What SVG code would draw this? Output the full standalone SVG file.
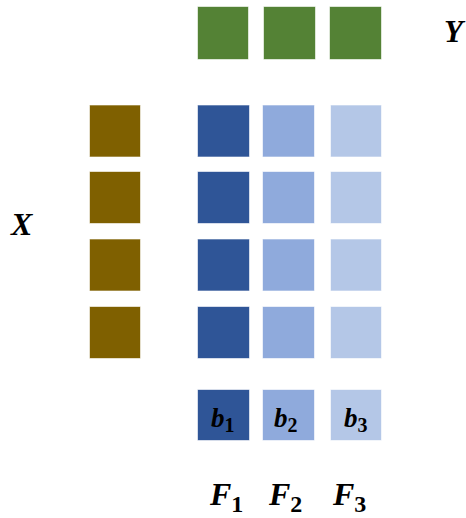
<svg xmlns="http://www.w3.org/2000/svg" width="466" height="518" viewBox="0 0 466 518">
  <style>
    .cell { stroke: #ffffff; stroke-opacity: 0.6; stroke-width: 1; }
    .y { fill: #548235; }
    .x { fill: #7F6000; }
    .f1 { fill: #2F5597; }
    .f2 { fill: #8FAADC; }
    .f3 { fill: #B4C7E7; }
    .lbl { font-family: "Liberation Serif", "DejaVu Serif", serif; font-style: italic; font-weight: bold; fill: #000000; }
    .sub { font-style: normal; }
    .bias { font-size: 27px; }
    .bias .sub { font-size: 20px; }
    .flt { font-size: 32px; }
    .flt .sub { font-size: 24px; }
  </style>
  <rect width="466" height="518" fill="#ffffff"/>

  <!-- output vector Y -->
  <g id="Y">
    <rect class="cell y" x="197.5" y="6.5" width="51" height="53"/>
    <rect class="cell y" x="263.5" y="6.5" width="52" height="53"/>
    <rect class="cell y" x="329.5" y="6.5" width="52" height="53"/>
    <text class="lbl" x="444" y="42" font-size="31">Y</text>
  </g>

  <!-- input matrix X -->
  <g id="X">
    <rect class="cell x" x="89.5" y="105" width="51" height="52"/>
    <rect class="cell x" x="89.5" y="171.5" width="51" height="52"/>
    <rect class="cell x" x="89.5" y="239" width="51" height="52"/>
    <rect class="cell x" x="89.5" y="306.5" width="51" height="52"/>
    <text class="lbl" x="11" y="235" font-size="32">X</text>
  </g>

  <!-- filter F1 with bias b1 -->
  <g id="F1">
    <rect class="cell f1" x="197.5" y="105" width="52" height="52"/>
    <rect class="cell f1" x="197.5" y="171.5" width="52" height="52"/>
    <rect class="cell f1" x="197.5" y="239" width="52" height="52"/>
    <rect class="cell f1" x="197.5" y="306.5" width="52" height="52"/>
    <rect class="cell f1" x="197.5" y="389.5" width="52" height="51"/>
    <text class="lbl bias" x="211" y="427">b<tspan class="sub" dy="5">1</tspan></text>
    <text class="lbl flt" x="210" y="505">F<tspan class="sub" dy="7">1</tspan></text>
  </g>

  <!-- filter F2 with bias b2 -->
  <g id="F2">
    <rect class="cell f2" x="262.5" y="105" width="52" height="52"/>
    <rect class="cell f2" x="262.5" y="171.5" width="52" height="52"/>
    <rect class="cell f2" x="262.5" y="239" width="52" height="52"/>
    <rect class="cell f2" x="262.5" y="306.5" width="52" height="52"/>
    <rect class="cell f2" x="262.5" y="389.5" width="52" height="51"/>
    <text class="lbl bias" x="274" y="427">b<tspan class="sub" dy="5">2</tspan></text>
    <text class="lbl flt" x="269" y="505">F<tspan class="sub" dy="7">2</tspan></text>
  </g>

  <!-- filter F3 with bias b3 -->
  <g id="F3">
    <rect class="cell f3" x="330.5" y="105" width="51" height="52"/>
    <rect class="cell f3" x="330.5" y="171.5" width="51" height="52"/>
    <rect class="cell f3" x="330.5" y="239" width="51" height="52"/>
    <rect class="cell f3" x="330.5" y="306.5" width="51" height="52"/>
    <rect class="cell f3" x="330.5" y="389.5" width="51" height="51"/>
    <text class="lbl bias" x="344" y="427">b<tspan class="sub" dy="5">3</tspan></text>
    <text class="lbl flt" x="333" y="505">F<tspan class="sub" dy="7">3</tspan></text>
  </g>

  <!-- no connectors in this figure -->
  <g id="connectors"/>
</svg>
